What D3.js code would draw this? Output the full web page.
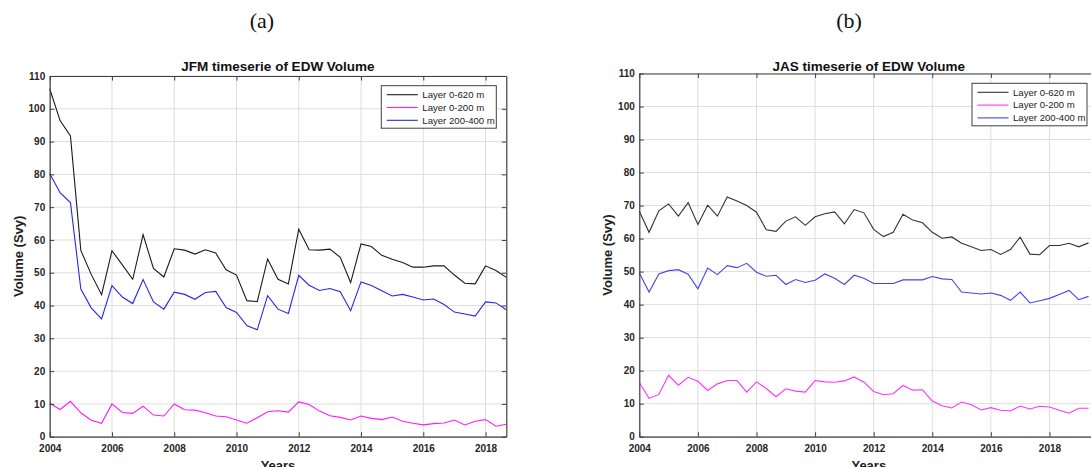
<!DOCTYPE html>
<html>
<head>
<meta charset="utf-8">
<script src="https://cdn.jsdelivr.net/npm/d3@7"></script>
<style>
  body { margin: 0; background: #fff; }
  .tick text { font-family: "Liberation Sans", Arial, sans-serif; font-weight: bold; font-size: 10px; fill: #262626; }
  .domain { stroke: #404040; stroke-width: 1.2; }
  .tick line { stroke: #404040; }
  .grid line { stroke: #dedede; stroke-width: 1; }
  .series { fill: none; stroke-width: 1.1; }
</style>
</head>
<body>
<svg id="chart"></svg>
<script>
// JFM series, one value every 4 months from 2004
const jfmLayer0620 = [106.1, 96.4, 91.7, 56.8, 49.5, 43.3, 56.7, 52.4, 48.0, 61.6, 51.3, 48.7,
  57.3, 56.9, 55.7, 57.0, 56.0, 50.9, 49.3, 41.5, 41.2, 54.2, 48.0, 46.6, 63.3, 57.0, 56.9,
  57.2, 54.7, 47.0, 58.8, 58.0, 55.3, 54.1, 53.1, 51.7, 51.7, 52.1, 52.1, 49.3, 46.8, 46.6,
  52.1, 50.7, 48.6];
const jfmLayer0200 = [10.2, 8.3, 10.8, 7.3, 5.0, 4.1, 10.0, 7.4, 7.1, 9.3, 6.6, 6.3,
  10.0, 8.2, 8.1, 7.3, 6.3, 6.1, 5.1, 4.1, 5.8, 7.6, 7.9, 7.5, 10.6, 9.8, 7.8,
  6.4, 5.9, 5.1, 6.3, 5.6, 5.2, 6.0, 4.7, 4.1, 3.6, 4.0, 4.2, 5.1, 3.6, 4.7,
  5.2, 3.2, 3.8];
const jfmLayer200400 = [80.3, 74.4, 71.4, 45.0, 39.3, 35.9, 46.1, 42.6, 40.6, 47.9, 41.1, 38.9,
  44.1, 43.4, 41.9, 44.0, 44.3, 39.4, 37.9, 33.9, 32.6, 43.0, 38.9, 37.6, 49.2, 46.2, 44.6,
  45.2, 44.2, 38.4, 47.2, 46.1, 44.5, 42.9, 43.4, 42.6, 41.7, 42.0, 40.3, 38.0, 37.4, 36.8,
  41.1, 40.8, 38.7];

// JAS series
const jasLayer0620 = [68.3, 61.9, 68.4, 70.5, 66.8, 70.9, 64.3, 70.1, 66.8, 72.6, 71.4, 70.0,
  68.0, 62.7, 62.2, 65.3, 66.6, 64.0, 66.6, 67.5, 68.1, 64.5, 68.8, 67.8, 62.8, 60.6, 61.9,
  67.4, 65.6, 64.8, 61.9, 60.1, 60.5, 58.6, 57.5, 56.4, 56.7, 55.2, 56.7, 60.4, 55.3, 55.1,
  57.9, 57.9, 58.6, 57.5, 58.7];
const jasLayer0200 = [16.4, 11.6, 12.8, 18.6, 15.6, 18.0, 16.8, 14.0, 16.0, 17.0, 17.0, 13.5,
  16.6, 14.6, 12.1, 14.5, 13.8, 13.5, 17.0, 16.6, 16.5, 16.9, 18.1, 16.5, 13.7, 12.7, 13.0,
  15.5, 14.1, 14.2, 10.8, 9.4, 8.7, 10.5, 9.7, 8.1, 8.8, 8.0, 7.8, 9.3, 8.4, 9.2,
  9.0, 8.0, 7.1, 8.6, 8.6];
const jasLayer200400 = [49.6, 43.8, 49.3, 50.3, 50.6, 49.2, 44.8, 51.1, 49.1, 51.8, 51.2, 52.5,
  49.8, 48.6, 48.9, 46.1, 47.6, 46.7, 47.4, 49.3, 48.0, 46.1, 48.9, 48.0, 46.4, 46.4, 46.4,
  47.5, 47.5, 47.5, 48.5, 47.8, 47.6, 43.8, 43.5, 43.2, 43.5, 42.8, 41.3, 43.8, 40.5, 41.2,
  41.9, 43.1, 44.3, 41.5, 42.5];

const startYear = 2004;
const stepYear = 1 / 3;
const xTicks = [2004, 2006, 2008, 2010, 2012, 2014, 2016, 2018, 2020];
const yTicks = [0, 10, 20, 30, 40, 50, 60, 70, 80, 90, 100, 110];
const legendLabels = ["Layer 0-620 m", "Layer 0-200 m", "Layer 200-400 m"];

const width = 1091;
const height = 467;

const svg = d3.select("#chart")
  .attr("width", width)
  .attr("height", height)
  .attr("viewBox", [0, 0, width, height]);

function drawPanel(opt) {
  const x = d3.scaleLinear([startYear, opt.xEnd], [opt.left, opt.right]);
  const y = d3.scaleLinear([0, 110], [opt.bottom, opt.top]);
  const g = svg.append("g");
  const ticksX = xTicks.filter(t => t <= opt.xEnd);

  // сетка
  const grid = g.append("g").attr("class", "grid");
  grid.selectAll(".gx").data(ticksX).enter().append("line")
    .attr("x1", d => x(d)).attr("x2", d => x(d))
    .attr("y1", opt.top).attr("y2", opt.bottom);
  grid.selectAll(".gy").data(yTicks).enter().append("line")
    .attr("x1", opt.left).attr("x2", opt.right)
    .attr("y1", d => y(d)).attr("y2", d => y(d));

  // линии
  const line = d3.line()
    .x((d, i) => x(startYear + i * stepYear))
    .y(d => y(d));
  opt.series.forEach(s => {
    g.append("path")
      .datum(s.values)
      .attr("class", "series")
      .attr("stroke", s.color)
      .attr("d", line);
  });

  // оси (MATLAB box, ticks inward)
  g.append("g")
    .attr("transform", `translate(0,${opt.bottom})`)
    .call(d3.axisBottom(x).tickValues(ticksX)
      .tickFormat(d3.format("d")).tickSizeInner(-4.5).tickSizeOuter(0).tickPadding(7.8));
  g.append("g")
    .attr("transform", `translate(${opt.left},0)`)
    .call(d3.axisLeft(y).tickValues(yTicks)
      .tickSizeInner(-4.5).tickSizeOuter(0).tickPadding(4.5));
  g.append("g")
    .attr("transform", `translate(0,${opt.top})`)
    .call(d3.axisTop(x).tickValues(ticksX)
      .tickFormat("").tickSizeInner(-4.5).tickSizeOuter(0));
  g.append("g")
    .attr("transform", `translate(${opt.right},0)`)
    .call(d3.axisRight(y).tickValues(yTicks)
      .tickFormat("").tickSizeInner(-4.5).tickSizeOuter(0));

  const cx = (opt.left + opt.right) / 2;

  g.append("text")
    .attr("x", opt.panelX).attr("y", 28)
    .attr("text-anchor", "middle")
    .style("font-family", "'Liberation Serif', 'Times New Roman', serif")
    .style("font-size", "22px")
    .attr("fill", "#111")
    .text(opt.panel);

  g.append("text")
    .attr("x", cx).attr("y", 70.5)
    .attr("text-anchor", "middle")
    .style("font-family", "'Liberation Sans', Arial, sans-serif")
    .style("font-weight", "bold")
    .style("font-size", "13.5px")
    .attr("fill", "#111")
    .text(opt.title);

  g.append("text")
    .attr("x", cx).attr("y", 469.5)
    .attr("text-anchor", "middle")
    .style("font-family", "'Liberation Sans', Arial, sans-serif")
    .style("font-weight", "bold")
    .style("font-size", "13px")
    .attr("fill", "#222")
    .text("Years");

  g.append("text")
    .attr("transform", `translate(${opt.left - 27},${(opt.top + opt.bottom) / 2}) rotate(-90)`)
    .attr("text-anchor", "middle")
    .style("font-family", "'Liberation Sans', Arial, sans-serif")
    .style("font-weight", "bold")
    .style("font-size", "13px")
    .attr("fill", "#222")
    .text("Volume (Svy)");

  // легенда
  const lg = g.append("g").attr("transform", `translate(${opt.legend[0]},${opt.legend[1]})`);
  lg.append("rect")
    .attr("width", 115).attr("height", 42.5)
    .attr("fill", "#fff").attr("stroke", "#404040").attr("stroke-width", 1);
  opt.series.forEach((s, i) => {
    const ly = 9 + i * 12.8;
    lg.append("line")
      .attr("x1", 5.5).attr("x2", 36.5)
      .attr("y1", ly).attr("y2", ly)
      .attr("stroke", s.color).attr("stroke-width", 1.1);
    lg.append("text")
      .attr("x", 41).attr("y", ly + 3.4)
      .style("font-family", "'Liberation Sans', Arial, sans-serif")
      .style("font-size", "9.6px")
      .attr("fill", "#222")
      .text(legendLabels[i]);
  });
}

drawPanel({
  panel: "(a)", panelX: 262,
  title: "JFM timeserie of EDW Volume",
  left: 49.7, right: 506.3, top: 76, bottom: 436.7, xEnd: 2018 + 2 / 3,
  legend: [381.3, 85.7],
  series: [
    {values: jfmLayer0620, color: "#1a1a1a"},
    {values: jfmLayer0200, color: "#ff1aff"},
    {values: jfmLayer200400, color: "#2828e6"}
  ]
});

drawPanel({
  panel: "(b)", panelX: 849,
  title: "JAS timeserie of EDW Volume",
  left: 639.3, right: 1098.3, top: 73.5, bottom: 436.7, xEnd: 2019 + 2 / 3,
  legend: [972, 83.3],
  series: [
    {values: jasLayer0620, color: "#333333"},
    {values: jasLayer0200, color: "#ff33ff"},
    {values: jasLayer200400, color: "#4444ee"}
  ]
});
</script>
</body>
</html>
